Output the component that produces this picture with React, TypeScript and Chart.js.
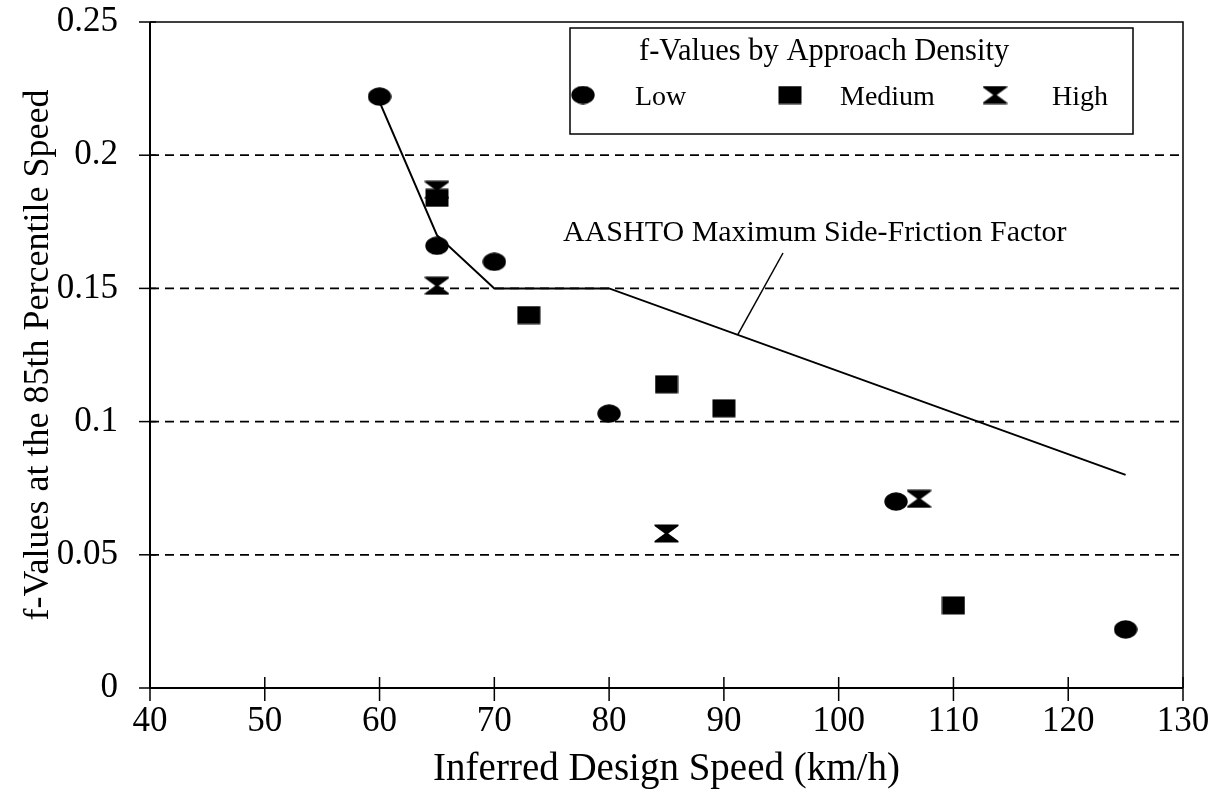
import React, { useEffect, useRef } from 'react';
import { Chart, registerables } from 'chart.js';

Chart.register(...registerables);

// ---- data ----
const X_TICKS = [40, 50, 60, 70, 80, 90, 100, 110, 120, 130];
const X_TICK_LABELS = ['40', '50', '60', '70', '80', '90', '100', '110', '120', '130'];
const Y_TICKS = [0, 0.05, 0.1, 0.15, 0.2, 0.25];
const Y_TICK_LABELS = ['0', '0.05', '0.1', '0.15', '0.2', '0.25'];

const LOW_X = [60, 65, 70, 80, 105, 125];
const LOW_Y = [0.222, 0.166, 0.16, 0.103, 0.07, 0.022];

const MED_X = [65, 73, 85, 90, 110];
const MED_Y = [0.184, 0.14, 0.114, 0.105, 0.031];

const HIGH_X = [65, 65, 85, 107];
const HIGH_Y = [0.187, 0.151, 0.058, 0.071];

const AASHTO_X = [60, 65, 70, 80, 125];
const AASHTO_Y = [0.22, 0.17, 0.15, 0.15, 0.08];

const SERIES_LABELS = ['Low', 'Medium', 'High'];
const LEGEND_TITLE = 'f-Values by Approach Density';
const ANNOTATION_TEXT = 'AASHTO Maximum Side-Friction Factor';
const ANNOTATION_TARGET_X = 91.2;
const X_TITLE = 'Inferred Design Speed (km/h)';
const Y_TITLE = 'f-Values at the 85th Percentile Speed';

const FONT = "'Liberation Serif', 'Times New Roman', Times, serif";

function makeMarker(kind: string, w: number, h: number): HTMLCanvasElement {
  const c = document.createElement('canvas');
  c.width = w;
  c.height = h;
  const ctx = c.getContext('2d')!;
  ctx.fillStyle = '#000';
  ctx.beginPath();
  if (kind === 'ellipse') {
    ctx.ellipse(w / 2, h / 2, w / 2 - 0.3, h / 2 - 0.3, 0, 0, Math.PI * 2);
  } else if (kind === 'rect') {
    ctx.rect(0.5, 0.5, w - 1, h - 1);
  } else {
    ctx.moveTo(0.5, 0.5);
    ctx.lineTo(w - 0.5, 0.5);
    ctx.lineTo(w - 0.5, h * 0.1);
    ctx.lineTo(w * 0.57, h * 0.5);
    ctx.lineTo(w - 0.5, h * 0.9);
    ctx.lineTo(w - 0.5, h - 0.5);
    ctx.lineTo(0.5, h - 0.5);
    ctx.lineTo(0.5, h * 0.9);
    ctx.lineTo(w * 0.43, h * 0.5);
    ctx.lineTo(0.5, h * 0.1);
    ctx.closePath();
  }
  ctx.fill();
  return c;
}

function interp(xs: number[], ys: number[], x: number): number {
  for (let i = 0; i < xs.length - 1; i++) {
    if (x >= xs[i] && x <= xs[i + 1]) {
      const t = (x - xs[i]) / (xs[i + 1] - xs[i]);
      return ys[i] + t * (ys[i + 1] - ys[i]);
    }
  }
  return ys[ys.length - 1];
}

export default function App() {
  const ref = useRef<HTMLCanvasElement>(null);

  useEffect(() => {
    if (!ref.current) return;
    const circle = makeMarker('ellipse', 24, 19);
    const square = makeMarker('rect', 24, 19);
    const hour = makeMarker('hour', 25, 19);
    const markers = [circle, square, hour];

    const framePlugin = {
      id: 'frame',
      beforeDatasetsDraw(chart: any) {
        const { ctx, chartArea } = chart;
        const { left, right, top, bottom } = chartArea;
        const xs = chart.scales.x;
        const ys = chart.scales.y;
        ctx.save();
        ctx.strokeStyle = '#000';
        // dashed grid
        ctx.lineWidth = 1.8;
        ctx.setLineDash([9, 6]);
        Y_TICKS.slice(1, -1).forEach((v) => {
          const py = ys.getPixelForValue(v);
          ctx.beginPath();
          ctx.moveTo(left, py);
          ctx.lineTo(right, py);
          ctx.stroke();
        });
        ctx.setLineDash([]);
        // top & right border
        ctx.lineWidth = 1.5;
        ctx.beginPath();
        ctx.moveTo(left, top);
        ctx.lineTo(right, top);
        ctx.lineTo(right, bottom);
        ctx.stroke();
        // axes
        ctx.lineWidth = 2;
        ctx.beginPath();
        ctx.moveTo(left, top);
        ctx.lineTo(left, bottom);
        ctx.lineTo(right, bottom);
        ctx.stroke();
        // ticks
        ctx.lineWidth = 1.5;
        Y_TICKS.forEach((v) => {
          const py = ys.getPixelForValue(v);
          ctx.beginPath();
          ctx.moveTo(left - 11, py);
          ctx.lineTo(left + 6, py);
          ctx.stroke();
        });
        X_TICKS.forEach((v) => {
          const px = xs.getPixelForValue(v);
          ctx.beginPath();
          ctx.moveTo(px, bottom - 11);
          ctx.lineTo(px, bottom + 13);
          ctx.stroke();
        });
        ctx.restore();
      },
      afterDatasetsDraw(chart: any) {
        const { ctx } = chart;
        const xs = chart.scales.x;
        const ys = chart.scales.y;
        ctx.save();
        // annotation
        ctx.fillStyle = '#000';
        ctx.strokeStyle = '#000';
        ctx.font = `30px ${FONT}`;
        ctx.textBaseline = 'alphabetic';
        ctx.textAlign = 'left';
        ctx.fillText(ANNOTATION_TEXT, 563, 241);
        const tx = xs.getPixelForValue(ANNOTATION_TARGET_X);
        const ty = ys.getPixelForValue(interp(AASHTO_X, AASHTO_Y, ANNOTATION_TARGET_X));
        ctx.lineWidth = 1.5;
        ctx.beginPath();
        ctx.moveTo(783, 253);
        ctx.lineTo(tx, ty);
        ctx.stroke();

        // legend box
        const bx = 570, by = 28, bw = 563, bh = 106;
        ctx.fillStyle = '#fff';
        ctx.fillRect(bx, by, bw, bh);
        ctx.lineWidth = 1.5;
        ctx.strokeRect(bx, by, bw, bh);
        ctx.fillStyle = '#000';
        ctx.font = `30.5px ${FONT}`;
        ctx.textAlign = 'left';
        ctx.fillText(LEGEND_TITLE, 639, 60);
        ctx.font = `28px ${FONT}`;
        const markerX = [583, 790, 995];
        const textX = [635, 840, 1052];
        const labels = chart.data.datasets.slice(0, 3).map((d: any) => d.label);
        labels.forEach((lab: string, i: number) => {
          const m = markers[i];
          ctx.drawImage(m, markerX[i] - m.width / 2, 95 - m.height / 2);
          ctx.fillText(lab, textX[i], 105);
        });
        ctx.restore();
      },
    };

    const pts = (xs: number[], ys: number[]) => xs.map((x, i) => ({ x, y: ys[i] }));

    const chart = new Chart(ref.current, {
      type: 'scatter',
      data: {
        datasets: [
          {
            label: SERIES_LABELS[0],
            data: pts(LOW_X, LOW_Y),
            pointStyle: circle as any,
            pointRadius: 12,
            backgroundColor: '#000',
            borderColor: '#000',
          },
          {
            label: SERIES_LABELS[1],
            data: pts(MED_X, MED_Y),
            pointStyle: square as any,
            pointRadius: 12,
            backgroundColor: '#000',
            borderColor: '#000',
          },
          {
            label: SERIES_LABELS[2],
            data: pts(HIGH_X, HIGH_Y),
            pointStyle: hour as any,
            pointRadius: 12,
            backgroundColor: '#000',
            borderColor: '#000',
          },
          {
            type: 'line' as any,
            label: 'AASHTO',
            data: pts(AASHTO_X, AASHTO_Y),
            showLine: true,
            borderColor: '#000',
            borderWidth: 2,
            pointRadius: 0,
            fill: false,
            tension: 0,
          } as any,
        ],
      },
      options: {
        animation: false,
        responsive: false,
        devicePixelRatio: 1,
        layout: { padding: { top: 22, right: 32, bottom: 0, left: 0 } },
        plugins: {
          legend: { display: false },
          tooltip: { enabled: false },
          title: { display: false },
        },
        scales: {
          x: {
            type: 'linear',
            min: 40,
            max: 130,
            afterBuildTicks: (s: any) => {
              s.ticks = X_TICKS.map((v) => ({ value: v }));
            },
            afterFit: (s: any) => {
              s.height = 117;
              s.paddingLeft = 0;
              s.paddingRight = 0;
            },
            grid: { display: false, drawTicks: false },
            border: { display: false },
            ticks: {
              color: '#000',
              padding: 13,
              maxRotation: 0,
              autoSkip: false,
              font: { family: FONT, size: 35 },
              callback: (_v: any, i: number) => X_TICK_LABELS[i],
            },
            title: {
              display: true,
              text: X_TITLE,
              color: '#000',
              font: { family: FONT, size: 39 },
              padding: { top: 0, bottom: 12 },
            },
          },
          y: {
            type: 'linear',
            min: 0,
            max: 0.25,
            afterBuildTicks: (s: any) => {
              s.ticks = Y_TICKS.map((v) => ({ value: v }));
            },
            afterFit: (s: any) => {
              s.width = 150;
              s.paddingTop = 0;
              s.paddingBottom = 0;
            },
            grid: { display: false, drawTicks: false },
            border: { display: false },
            ticks: {
              color: '#000',
              padding: 32,
              autoSkip: false,
              font: { family: FONT, size: 35 },
              callback: (_v: any, i: number) => Y_TICK_LABELS[i],
            },
            title: {
              display: true,
              text: Y_TITLE,
              color: '#000',
              font: { family: FONT, size: 36 },
              padding: { top: 17, bottom: 0 },
            },
          },
        },
      },
      plugins: [framePlugin],
    });
    return () => chart.destroy();
  }, []);

  return (
    <div style={{ position: 'absolute', left: 0, top: 0, width: 1215, height: 805, background: '#fff' }}>
      <canvas ref={ref} width={1215} height={805} style={{ display: 'block', width: 1215, height: 805 }} />
    </div>
  );
}
